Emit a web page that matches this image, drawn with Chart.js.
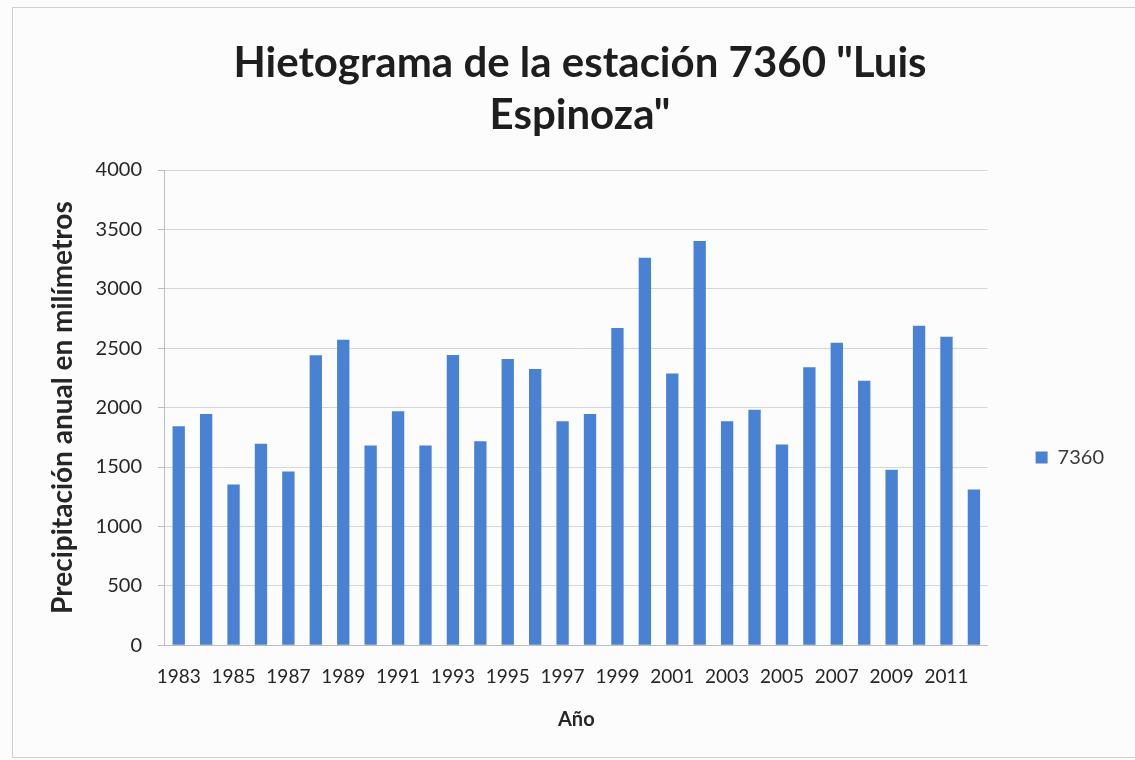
<!DOCTYPE html>
<html>
<head>
<meta charset="utf-8">
<script src="https://cdn.jsdelivr.net/npm/chart.js@4"></script>
<style>
  body{margin:0;background:#fcfcfc;}
  #marco{position:absolute;left:12px;top:7px;width:1140px;height:749px;border:1px solid #cfcfcf;pointer-events:none;}
  #grafico{position:absolute;left:0;top:0;}
</style>
</head>
<body>
<div id="marco"></div>
<canvas id="grafico" width="1135" height="760"></canvas>
<script>
const anios = ["1983","1984","1985","1986","1987","1988","1989","1990","1991","1992",
  "1993","1994","1995","1996","1997","1998","1999","2000","2001","2002",
  "2003","2004","2005","2006","2007","2008","2009","2010","2011","2012"];
const precipitacion = [1843,1947,1353,1695,1462,2440,2571,1681,1969,1681,
  2443,1717,2409,2325,1885,1947,2670,3261,2288,3403,
  1885,1981,1689,2339,2546,2227,1476,2689,2597,1311];
const serie = "7360";
const titulo = ['Hietograma de la estación 7360 "Luis', 'Espinoza"'];

const fuente = "Lato, 'Open Sans', sans-serif";
const azul = "#4a82d3";

// la leyenda de Excel queda centrada mas abajo
const bajarLeyenda = {
  id: "bajarLeyenda",
  afterLayout(chart){
    const lg = chart.legend;
    if(!lg) return;
    const h = lg.bottom - lg.top;
    const centro = (chart.chartArea.top + chart.height - 15) / 2;
    lg.top = centro - h / 2;
    lg.bottom = centro + h / 2;
  }
};

new Chart(document.getElementById("grafico"), {
  type: "bar",
  data: {
    labels: anios,
    datasets: [{
      label: serie,
      data: precipitacion,
      backgroundColor: azul,
      categoryPercentage: 1,
      barPercentage: 0.45
    }]
  },
  plugins: [bajarLeyenda],
  options: {
    responsive: false,
    animation: false,
    layout: { padding: { left: 46, right: 21, top: 0, bottom: 28 } },
    plugins: {
      tooltip: { enabled: false },
      title: {
        display: true,
        text: titulo,
        color: "#1e1e1e",
        font: { family: fuente, size: 42, weight: "bold", lineHeight: 1.25 },
        padding: { top: 37, bottom: 28 }
      },
      legend: {
        position: "right",
        labels: {
          color: "#3a3a3a",
          font: { family: fuente, size: 20 },
          boxWidth: 12,
          boxHeight: 12,
          padding: 48
        }
      }
    },
    scales: {
      x: {
        grid: { display: false },
        border: { display: true, color: "#bdbdbd" },
        ticks: {
          autoSkip: false,
          maxRotation: 0,
          padding: 12,
          color: "#262626",
          font: { family: fuente, size: 19 },
          callback: function(val, i){ return i % 2 === 0 ? anios[i] : ""; }
        },
        title: {
          display: true,
          text: "Año",
          color: "#262626",
          font: { family: fuente, size: 20, weight: "bold" },
          padding: { top: 8, bottom: 0 }
        }
      },
      y: {
        min: 0,
        max: 4000,
        ticks: {
          stepSize: 500,
          padding: 16,
          color: "#262626",
          font: { family: fuente, size: 20 },
          callback: function(v){ return String(v); }
        },
        grid: { color: "#d6d6d6", tickLength: 7, tickColor: "#bdbdbd" },
        border: { display: true, color: "#bdbdbd" },
        title: {
          display: true,
          text: "Precipitación anual en milímetros",
          color: "#262626",
          font: { family: fuente, size: 28, weight: "bold" },
          padding: { top: 0, bottom: 0 }
        }
      }
    }
  }
});
</script>
</body>
</html>
